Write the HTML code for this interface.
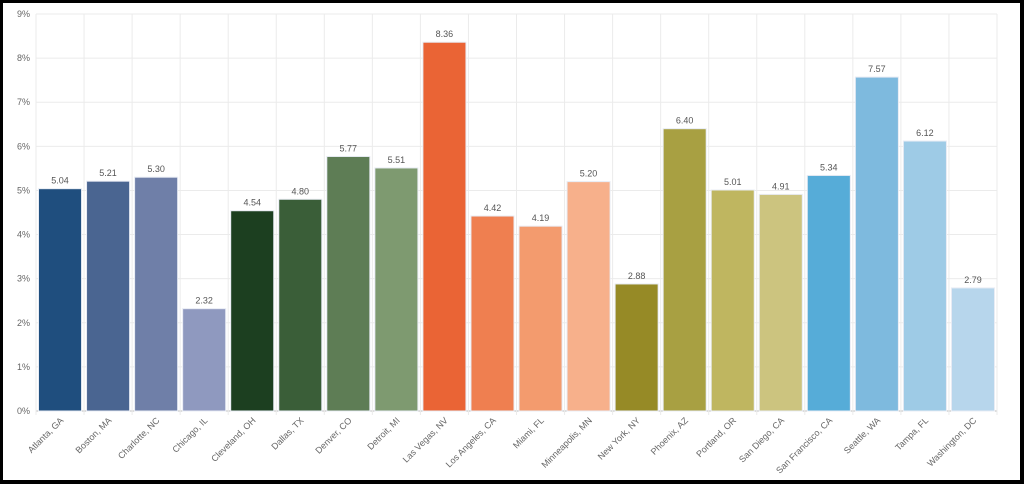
<!DOCTYPE html>
<html><head><meta charset="utf-8"><style>
html,body{margin:0;padding:0;background:#000;}
#frame{position:absolute;left:3px;top:3px;width:1017px;height:477px;background:#fff;}
svg{position:absolute;left:0;top:0;}
text{font-family:"Liberation Sans",sans-serif;}
</style></head><body>
<div id="frame"></div>
<svg id="chart" width="1024" height="484"></svg>
<script>
const categories=["Atlanta, GA","Boston, MA","Charlotte, NC","Chicago, IL","Cleveland, OH","Dallas, TX","Denver, CO","Detroit, MI","Las Vegas, NV","Los Angeles, CA","Miami, FL","Minneapolis, MN","New York, NY","Phoenix, AZ","Portland, OR","San Diego, CA","San Francisco, CA","Seattle, WA","Tampa, FL","Washington, DC"];
const values=[5.04,5.21,5.30,2.32,4.54,4.80,5.77,5.51,8.36,4.42,4.19,5.20,2.88,6.40,5.01,4.91,5.34,7.57,6.12,2.79];
const colors=["#1f4e7e","#4a6591","#6f7fa8","#8f99bf","#1c3f20","#3a5e38","#5e7d55","#7e9a70","#ea6435","#ef7f50","#f39b6e","#f7b08b","#968a26","#a8a042","#bfb660","#ccc47f","#56acd8","#7ebade","#9ecbe6","#b7d6ec"];
const yTicks=[0,1,2,3,4,5,6,7,8,9];
const svg=document.getElementById('chart');const NS="http://www.w3.org/2000/svg";
const L=36,R=997,T=14,B=411,yMax=9;
const slot=(R-L)/categories.length;
const y=v=>B-(v/yMax)*(B-T);
const x=i=>L+i*slot;
function mk(t,a){const e=document.createElementNS(NS,t);for(const k in a)e.setAttribute(k,a[k]);svg.appendChild(e);return e;}
yTicks.forEach(t=>{
 const g=mk('line',{x1:L,x2:R,y1:y(t),y2:y(t),stroke:t===0?'#bbb':'#ebebeb','stroke-width':1});
 
 
 const tx=mk('text',{x:L-6,y:y(t)+3,'text-anchor':'end','font-size':9,fill:'#666'});
 tx.textContent=t+'%';
 
 
});
for(let i=0;i<=categories.length;i++){
 const g=mk('line',{x1:x(i),x2:x(i),y1:T,y2:B+4,stroke:'#ebebeb','stroke-width':1});
 
 
}
categories.forEach((c,i)=>{
 const bx=x(i)+2.5,bw=slot-5;
 const r=mk('rect',{x:bx,y:y(values[i]),width:bw,height:B-y(values[i]),fill:colors[i],stroke:'#e8ecf4','stroke-width':1});
 
 
 const v=mk('text',{x:bx+bw/2,y:y(values[i])-5,'text-anchor':'middle','font-size':9,fill:'#555'});
 v.textContent=values[i].toFixed(2);
 
 
 const cx=x(i)+slot/2+4,cy=B+10;
 const lt=mk('text',{x:cx,y:cy,'text-anchor':'end','font-size':9,fill:'#666',transform:`rotate(-45 ${cx} ${cy})`});
 lt.textContent=c;
 
 
});
</script>
</body></html>
